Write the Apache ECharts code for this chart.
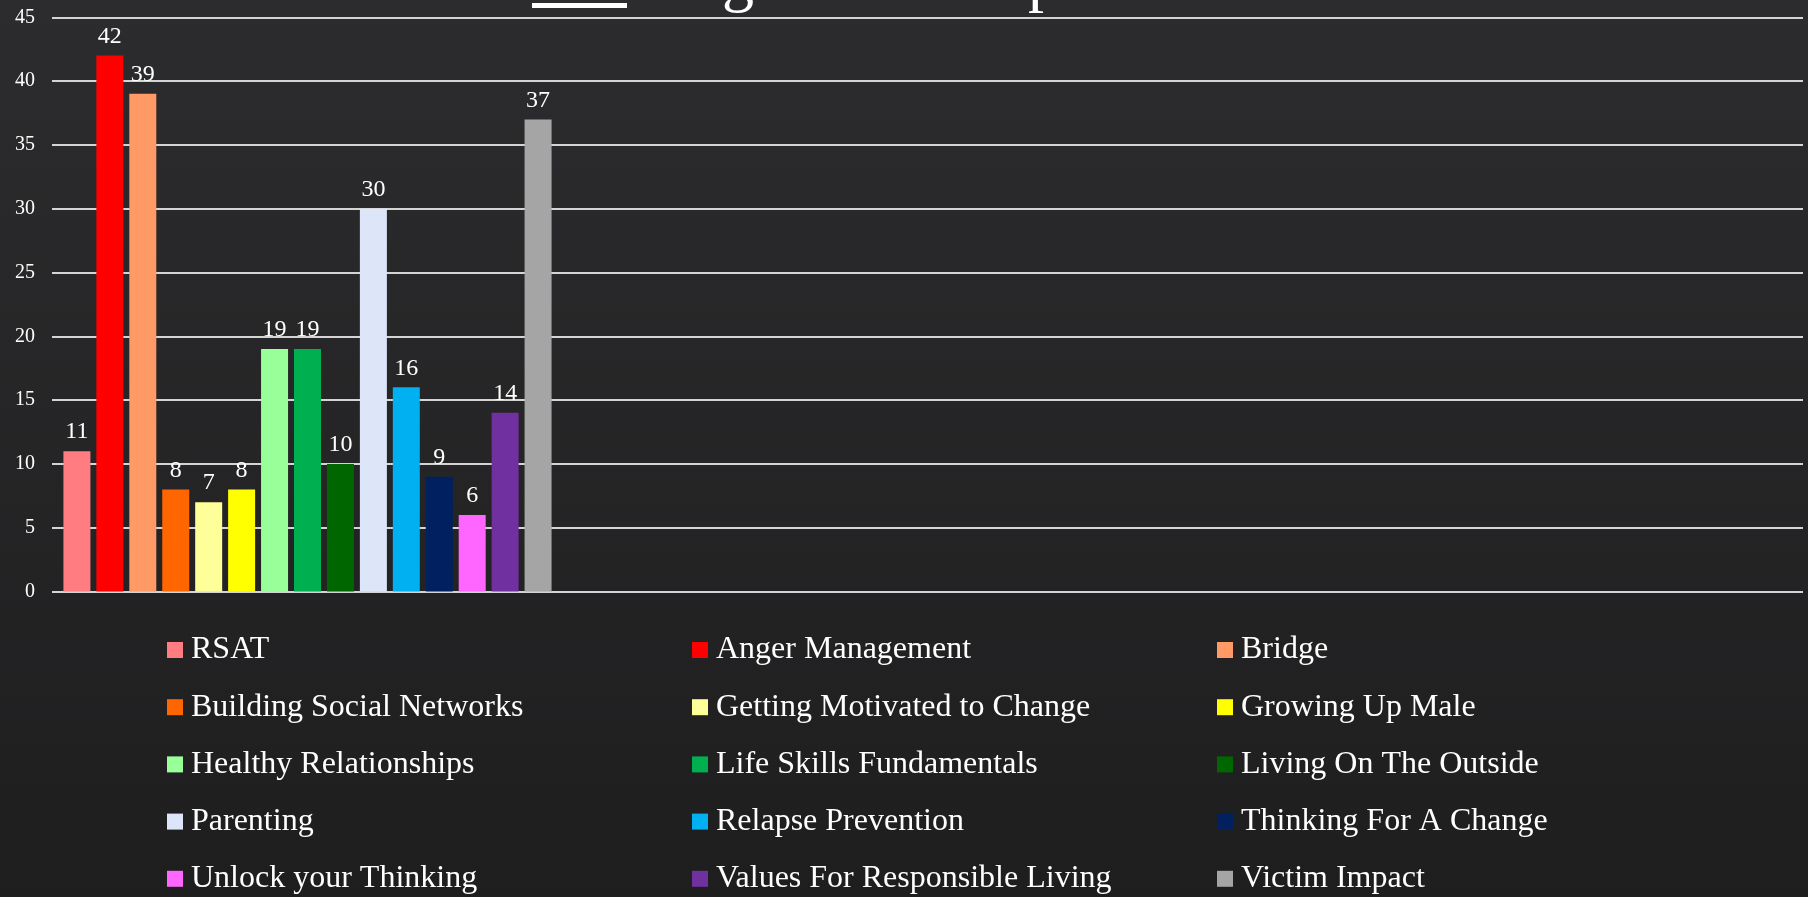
<!DOCTYPE html>
<html lang="en">
<head>
    <meta charset="UTF-8">
    <title>Program Participation</title>
    <script src="https://cdn.jsdelivr.net/npm/echarts@6/dist/echarts.min.js"></script>
    <style>
        html, body { margin: 0; padding: 0; background: #262628; }
    </style>
</head>
<body>

<div id="main" style="width: 1808px;height:897px;"></div>
<script type="text/javascript">

    // 各课程名称与人数
    var programs = ['RSAT', 'Anger Management', 'Bridge', 'Building Social Networks',
        'Getting Motivated to Change', 'Growing Up Male', 'Healthy Relationships',
        'Life Skills Fundamentals', 'Living On The Outside', 'Parenting', 'Relapse Prevention',
        'Thinking For A Change', 'Unlock your Thinking', 'Values For Responsible Living', 'Victim Impact'];
    var counts = [11, 42, 39, 8, 7, 8, 19, 19, 10, 30, 16, 9, 6, 14, 37];
    var yTicks = [0, 5, 10, 15, 20, 25, 30, 35, 40, 45];

    var colors = ['#FF7C80', '#FF0000', '#FF9966', '#FF6600', '#FFFF99', '#FFFF00', '#99FF99',
        '#00B050', '#006600', '#DCE6F8', '#00B0F0', '#002060', '#FF66FF', '#7030A0', '#A5A5A5'];

    var font = '"Liberation Serif", "DejaVu Serif", serif';

    var series = programs.map(function (name, i) {
        return {
            name: name,
            type: 'bar',
            xAxisIndex: 1,
            yAxisIndex: 1,
            barWidth: 27,
            barGap: '22%',
            itemStyle: {color: colors[i]},
            label: {
                show: true,
                position: 'top',
                distance: 7,
                color: '#ffffff',
                fontFamily: font,
                fontSize: 24
            },
            data: [counts[i]]
        };
    });

    // 图例分三列，每列五项
    function column(k) {
        var arr = [];
        for (var i = k; i < programs.length; i += 3) arr.push(programs[i]);
        return arr;
    }
    var legendBase = {
        orient: 'vertical',
        top: 629,
        height: 300,
        itemWidth: 16,
        itemHeight: 16,
        itemGap: 25.2,
        icon: 'rect',
        textStyle: {color: '#ffffff', fontFamily: font, fontSize: 32, lineHeight: 30, padding: [0, 0, 0, 3]}
    };
    var legends = [167, 692, 1217].map(function (x, k) {
        return Object.assign({}, legendBase, {left: x - 5, data: column(k)});
    });

    var option = {
        backgroundColor: {
            type: 'linear', x: 0, y: 0, x2: 0, y2: 1,
            colorStops: [{offset: 0, color: '#2c2c2e'}, {offset: 1, color: '#1e1e1f'}]
        },
        animation: false,
        legend: legends,
        grid: [
            {left: 52, right: 5, top: 17.3, bottom: 305.5},
            {left: 52, width: 511, top: 17.3, bottom: 305.5}
        ],
        xAxis: [
            {
                gridIndex: 0, type: 'category', data: [''],
                axisLine: {show: false}, axisTick: {show: false}, axisLabel: {show: false}
            },
            {
                gridIndex: 1, type: 'category', data: [''],
                axisLine: {show: false}, axisTick: {show: false}, axisLabel: {show: false}
            }
        ],
        yAxis: [
            {
                gridIndex: 0, type: 'value',
                min: yTicks[0], max: yTicks[yTicks.length - 1], interval: 5,
                axisLine: {show: false}, axisTick: {show: false},
                axisLabel: {color: '#ffffff', fontFamily: font, fontSize: 20, margin: 17},
                splitLine: {lineStyle: {color: '#d4d4d4', width: 2}}
            },
            {
                gridIndex: 1, type: 'value',
                min: yTicks[0], max: yTicks[yTicks.length - 1], interval: 5,
                axisLine: {show: false}, axisTick: {show: false},
                axisLabel: {show: false}, splitLine: {show: false}
            }
        ],
        graphic: [
            // 被裁掉的标题残留部分
            {type: 'rect', left: 532, top: 3, shape: {width: 95, height: 5}, style: {fill: '#ffffff'}},
            {type: 'text', x: 722, y: 14, style: {text: 'g', fill: '#ffffff', font: '64px ' + font, textVerticalAlign: 'bottom'}},
            {type: 'text', x: 1028, y: 14, style: {text: 'p', fill: '#ffffff', font: '64px ' + font, textVerticalAlign: 'bottom'}}
        ],
        series: series
    };

    var myChart = echarts.init(document.getElementById('main'));
    myChart.setOption(option);

</script>

</body>
</html>
